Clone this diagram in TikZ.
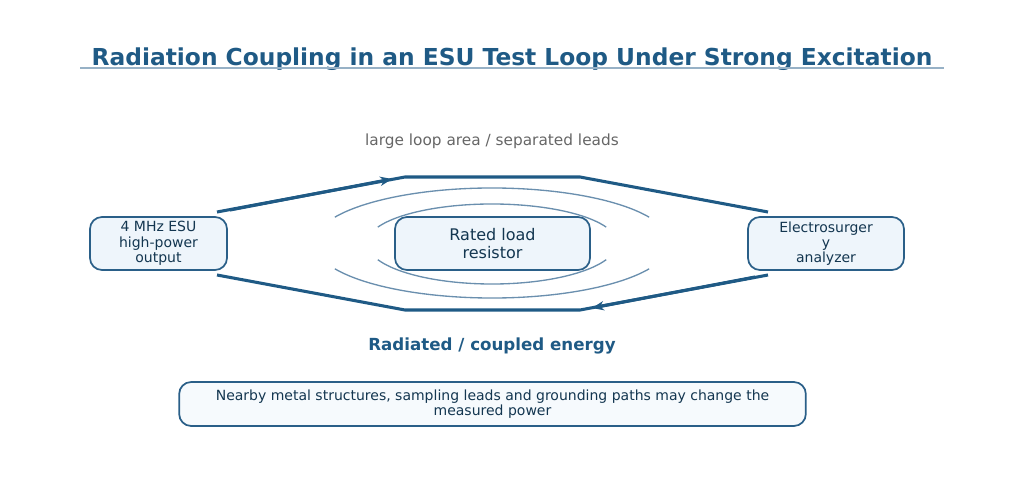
\documentclass[tikz,border=0pt]{standalone}
\usepackage{fontspec}
\setmainfont{DejaVu Sans}
\usetikzlibrary{arrows.meta,calc}
\definecolor{ttl}{HTML}{1F5A85}
\definecolor{bord}{HTML}{2A5F88}
\definecolor{fillb}{HTML}{EEF5FB}
\definecolor{arcc}{HTML}{6A8FAE}
\tikzset{
 box/.style={draw=bord,line width=1.3pt,fill=fillb,rounded corners=9pt,align=center,inner sep=0pt,text=ttl!60!black},
 loop/.style={draw=ttl,line width=2.3pt},
 wave/.style={draw=arcc,line width=1pt}
}
\begin{document}
\begin{tikzpicture}[x=0.75pt,y=-0.75pt]
\useasboundingbox (0,0) rectangle (1024,488);
\node[font=\fontsize{17.5}{20}\selectfont\bfseries,text=ttl] (title) at (512,59) {Radiation Coupling in an ESU Test Loop Under Strong Excitation};
\draw[draw=arcc!70,line width=1pt] (80,68) -- (944,68);
\node[font=\fontsize{11.5}{13}\selectfont,text=black!60] (lbl) at (492,141) {large loop area / separated leads};
\node[box,minimum width=102.75pt,minimum height=39.75pt,font=\fontsize{10.5}{11.5}\selectfont] (esu) at (158.5,243.5) {4 MHz ESU\\high-power\\output};
\node[box,minimum width=146.25pt,minimum height=39.75pt,font=\fontsize{12}{13.5}\selectfont] (res) at (492.5,243.5) {Rated load\\resistor};
\node[box,minimum width=117pt,minimum height=39.75pt,font=\fontsize{10.5}{11.5}\selectfont] (ana) at (826,243.5) {Electrosurger\\y\\analyzer};
\coordinate (t1) at (217,212); \coordinate (t2) at (405,177); \coordinate (t3) at (580,177); \coordinate (t4) at (768,212);
\coordinate (b1) at (217,275); \coordinate (b2) at (405,310); \coordinate (b3) at (580,310); \coordinate (b4) at (768,275);
\draw[loop] (t1) -- (t2) -- (t3) -- (t4);
\draw[loop] (b1) -- (b2) -- (b3) -- (b4);
\draw[loop,-{Stealth[length=9pt,width=7pt]}] (230,210) -- (392,179);
\draw[loop,-{Stealth[length=9pt,width=7pt]}] (755,277) -- (592,308);
\draw[wave] ($(492,243)+(28:178 and -55)$) arc[start angle=28,end angle=152,x radius=178,y radius=-55];
\draw[wave] ($(492,243)+(208:178 and -55)$) arc[start angle=208,end angle=332,x radius=178,y radius=-55];
\draw[wave] ($(492,243)+(24:125 and -39)$) arc[start angle=24,end angle=156,x radius=125,y radius=-39];
\draw[wave] ($(492,243)+(204:125 and -41)$) arc[start angle=204,end angle=336,x radius=125,y radius=-41];
\node[font=\fontsize{12.5}{14}\selectfont\bfseries,text=ttl] (rad) at (492,346) {Radiated / coupled energy};
\node[box,fill=fillb!50,minimum width=470pt,minimum height=33pt,font=\fontsize{10.5}{11.5}\selectfont] (note) at (492.5,404) {Nearby metal structures, sampling leads and grounding paths may change the\\measured power};
\end{tikzpicture}
\end{document}
